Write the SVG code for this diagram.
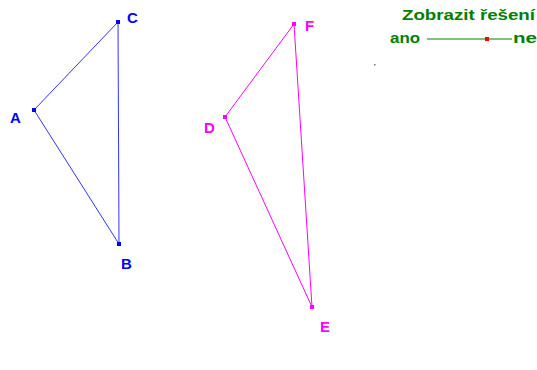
<svg xmlns="http://www.w3.org/2000/svg" width="537" height="370" viewBox="0 0 537 370">
<style>
.lbl{font-family:"Liberation Sans",Arial,sans-serif;font-weight:bold;font-size:15px}
.blue{fill:#0000ff}
.mag{fill:#ff00ff}
.grn{fill:#008000}
.eb{stroke:#3333ff;stroke-width:1;fill:none}
.em{stroke:#ff00ff;stroke-width:1;fill:none}
</style>
<rect width="537" height="370" fill="#ffffff"/>
<g id="connectors">
<line class="eb" x1="34" y1="110" x2="118" y2="22"/>
<line class="eb" x1="118" y1="22" x2="119" y2="244"/>
<line class="eb" x1="34" y1="110" x2="119" y2="244"/>
<line class="em" x1="225" y1="117" x2="294" y2="24"/>
<line class="em" x1="294" y1="24" x2="312" y2="307"/>
<line class="em" x1="225" y1="117" x2="312" y2="307"/>
</g>
<g id="A"><rect x="32" y="108" width="4" height="4" class="blue"/><text x="10" y="123" class="lbl blue">A</text></g>
<g id="B"><rect x="117" y="242" width="4" height="4" class="blue"/><text x="121" y="269" class="lbl blue">B</text></g>
<g id="C"><rect x="116" y="20" width="4" height="4" class="blue"/><text x="127" y="23" class="lbl blue">C</text></g>
<g id="D"><rect x="223" y="115" width="4" height="4" class="mag"/><text x="204" y="133" class="lbl mag">D</text></g>
<g id="E"><rect x="310" y="305" width="4" height="4" class="mag"/><text x="320" y="332" class="lbl mag">E</text></g>
<g id="F"><rect x="292" y="22" width="4" height="4" class="mag"/><text x="305" y="31" class="lbl mag">F</text></g>
<g id="slider">
<text x="402" y="20" class="lbl grn" textLength="133" lengthAdjust="spacingAndGlyphs">Zobrazit řešení</text>
<text x="390" y="43" class="lbl grn" textLength="30" lengthAdjust="spacingAndGlyphs">ano</text>
<line x1="427" y1="39" x2="512" y2="39" stroke="#008000" stroke-width="1"/>
<rect x="485" y="37" width="4" height="4" fill="#ff0000"/>
<text x="513" y="43" class="lbl grn" textLength="24" lengthAdjust="spacingAndGlyphs">ne</text>
<rect x="374" y="64" width="1.5" height="1.5" fill="#5a8a5a"/>
</g>
</svg>
